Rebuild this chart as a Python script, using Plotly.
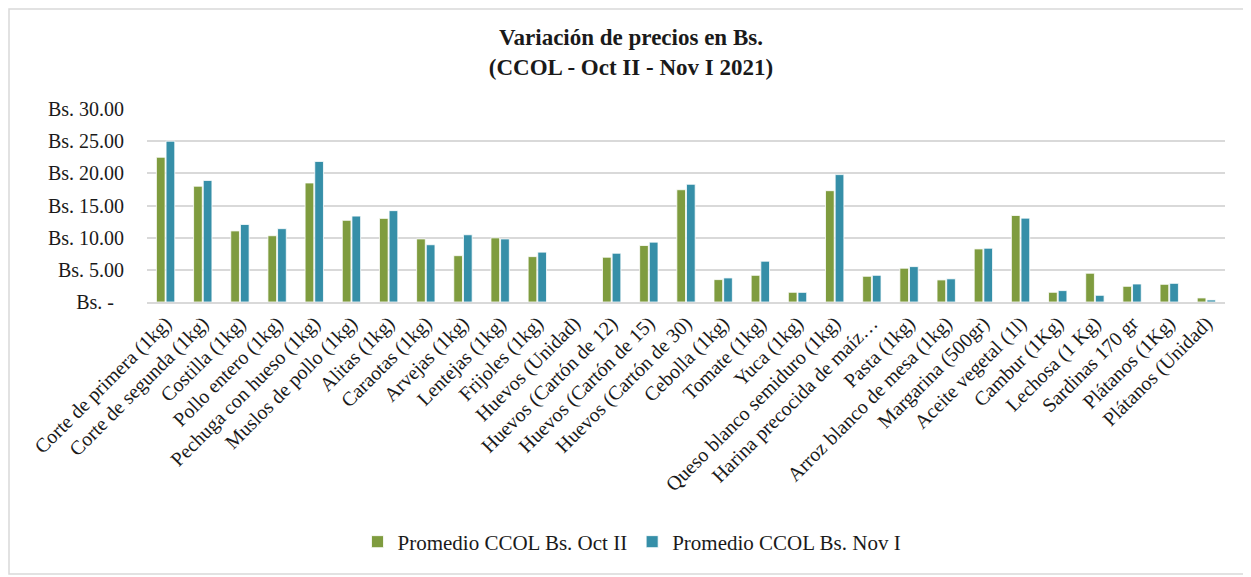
"""Variación de precios CCOL, Oct II vs Nov I 2021."""

import plotly.graph_objects as go

PRODUCTS = [
    "Corte de primera (1kg)",
    "Corte de segunda (1kg)",
    "Costilla (1kg)",
    "Pollo entero (1kg)",
    "Pechuga con hueso (1kg)",
    "Muslos de pollo (1kg)",
    "Alitas (1kg)",
    "Caraotas (1kg)",
    "Arvejas (1kg)",
    "Lentejas (1kg)",
    "Frijoles (1kg)",
    "Huevos (Unidad)",
    "Huevos (Cartón de 12)",
    "Huevos (Cartón de 15)",
    "Huevos (Cartón de 30)",
    "Cebolla (1kg)",
    "Tomate (1kg)",
    "Yuca (1kg)",
    "Queso blanco semiduro (1kg)",
    "Harina precocida de maíz…",
    "Pasta (1kg)",
    "Arroz blanco de mesa (1kg)",
    "Margarina (500gr)",
    "Aceite vegetal (1l)",
    "Cambur (1Kg)",
    "Lechosa (1 Kg)",
    "Sardinas 170 gr",
    "Plátanos (1Kg)",
    "Plátanos (Unidad)",
]

OCT_II = [
    22.5, 18.0, 11.05, 10.3, 18.5, 12.7, 13.0, 9.8, 7.2, 9.97,
    7.05, None, 6.96, 8.78, 17.45, 3.48, 4.15, 1.51, 17.3, 4.0,
    5.25, 3.43, 8.25, 13.45, 1.51, 4.47, 2.44, 2.75, 0.63,
]

NOV_I = [
    25.0, 18.9, 12.05, 11.4, 21.85, 13.35, 14.2, 8.9, 10.45, 9.8,
    7.75, None, 7.58, 9.3, 18.3, 3.74, 6.34, 1.5, 19.8, 4.15,
    5.5, 3.6, 8.36, 13.03, 1.77, 1.04, 2.8, 2.9, 0.32,
]

TICK_VALUES = [0, 5, 10, 15, 20, 25, 30]
TICK_LABELS = ["Bs. -\u00a0\u00a0", "Bs. 5.00", "Bs. 10.00", "Bs. 15.00",
               "Bs. 20.00", "Bs. 25.00", "Bs. 30.00"]

GREEN = "#7F9C3F"
BLUE = "#368FA8"
FONT = "Liberation Serif, DejaVu Serif, serif"

# the page body adds an 8px margin, so the figure is a bit smaller
W, H = 1243, 569
PLOT_L, PLOT_R, PLOT_T, PLOT_B = 139, 1217, 101, 294

fig = go.Figure()
fig.add_trace(
    go.Bar(
        name="Promedio CCOL Bs. Oct II",
        x=PRODUCTS,
        y=OCT_II,
        marker=dict(color=GREEN, line=dict(color="white", width=0.8)),
    )
)
fig.add_trace(
    go.Bar(
        name="Promedio CCOL Bs. Nov I",
        x=PRODUCTS,
        y=NOV_I,
        marker=dict(color=BLUE, line=dict(color="white", width=0.8)),
    )
)

# light outer frame like the chart area border
pw = PLOT_R - PLOT_L
ph = PLOT_B - PLOT_T
fig.add_shape(
    type="rect",
    xref="paper",
    yref="paper",
    x0=(1 - PLOT_L) / pw,
    x1=(W - 3 - PLOT_L) / pw,
    y0=(PLOT_B - (H - 3)) / ph,
    y1=(PLOT_B - 1) / ph,
    line=dict(color="#D9D9D9", width=1.5),
    layer="below",
)

fig.update_layout(
    width=W,
    height=H,
    paper_bgcolor="white",
    plot_bgcolor="white",
    font=dict(family=FONT, color="#1a1a1a"),
    margin=dict(l=PLOT_L, r=W - PLOT_R, t=PLOT_T, b=H - PLOT_B,
                autoexpand=False),
    title=dict(
        text="<b>Variación de precios en Bs.<br>(CCOL - Oct II - Nov I 2021)</b>",
        x=623 / W,
        xanchor="center",
        xref="container",
        y=1 - 37 / H,
        yanchor="middle",
        yref="container",
        font=dict(size=23, family=FONT, color="#1a1a1a"),
    ),
    barmode="group",
    bargap=0.48,
    bargroupgap=0.1,
    showlegend=True,
    legend=dict(
        orientation="h",
        x=624 / W,
        xanchor="center",
        xref="container",
        y=1 - 534 / H,
        yanchor="middle",
        yref="container",
        font=dict(size=21, family=FONT),
        traceorder="normal",
    ),
    xaxis=dict(
        tickangle=-45,
        tickfont=dict(size=20, family=FONT),
        showgrid=False,
        showline=True,
        linecolor="#D9D9D9",
        linewidth=1.5,
        ticks="",
        automargin=False,
    ),
    yaxis=dict(
        range=[0, 30],
        tickvals=TICK_VALUES,
        ticktext=TICK_LABELS,
        tickfont=dict(size=20, family=FONT),
        gridcolor="#D9D9D9",
        gridwidth=1.5,
        zeroline=False,
        ticks="",
        ticklen=0,
        ticklabelstandoff=22,
        automargin=False,
    ),
)

fig.write_html("out.html")
